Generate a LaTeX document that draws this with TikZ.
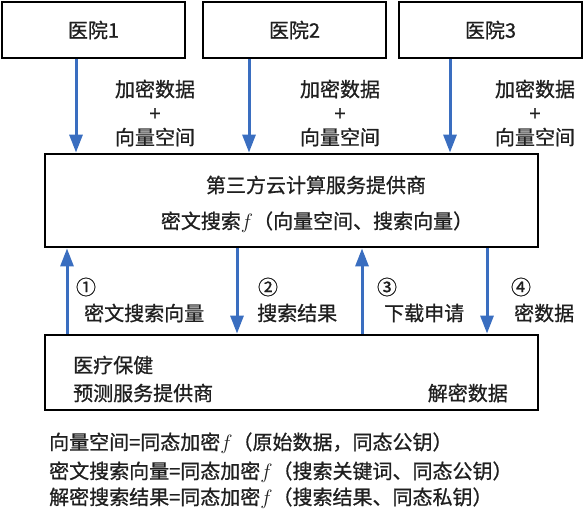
\documentclass[tikz,border=0pt]{standalone}
\usepackage{fontspec}
\newfontfamily\cjk[FakeBold=0.8]{Noto Sans CJK SC}
\usetikzlibrary{arrows.meta}
\definecolor{arrowblue}{RGB}{58,110,192}

\begin{document}
\begin{tikzpicture}[x=1pt,y=-1pt,
boxnode/.style={rectangle, draw=black, line width=2.8pt, fill=white, font=\cjk\fontsize{20}{24}\selectfont, text=black!88},
textnode/.style={font=\cjk\fontsize{20}{24}\selectfont, text=black!88, inner sep=0pt},
bluearrow/.style={draw=arrowblue, line width=3pt, -{Triangle[width=13pt,length=18pt]}}
]
    \useasboundingbox (0,0) rectangle (588,512);

    \node [boxnode, minimum width=183pt, minimum height=56pt] (h1) at (93.5,30) {医院1};
    \node [boxnode, minimum width=183pt, minimum height=56pt] (h2) at (294.5,30) {医院2};
    \node [boxnode, minimum width=183pt, minimum height=56pt] (h3) at (490.5,30) {医院3};

    \node [boxnode, minimum width=493pt, minimum height=93pt] (c) at (291.5,200.5) {};
    \node [textnode] (c1) at (316,185) {第三方云计算服务提供商};
    \node [textnode] (c2) at (317,222) {密文搜索$f$（向量空间、搜索向量）};

    \node [boxnode, minimum width=493pt, minimum height=75pt] (p) at (291.5,372.5) {};
    \node [textnode, anchor=west] (p1) at (73,365) {医疗保健};
    \node [textnode, anchor=west] (p2) at (73,393) {预测服务提供商};
    \node [textnode, anchor=east] (p3) at (508,393) {解密数据};

    \node [textnode, align=center] (t1) at (155,113) {加密数据\\+\\向量空间};
    \node [textnode, align=center] (t2) at (340,113) {加密数据\\+\\向量空间};
    \node [textnode, align=center] (t3) at (535,113) {加密数据\\+\\向量空间};

    \node [textnode] (n1) at (86,287) {①};
    \node [textnode] (n2) at (268,287) {②};
    \node [textnode] (n3) at (387,287) {③};
    \node [textnode] (n4) at (521,287) {④};
    \node [textnode, anchor=west] (s1) at (84,313) {密文搜索向量};
    \node [textnode, anchor=west] (s2) at (257,313) {搜索结果};
    \node [textnode, anchor=west] (s3) at (384,313) {下载申请};
    \node [textnode, anchor=west] (s4) at (514,313) {密数据};

    \node [textnode, anchor=west] (f1) at (49,443) {向量空间=同态加密$f$（原始数据，同态公钥）};
    \node [textnode, anchor=west] (f2) at (49,472) {密文搜索向量=同态加密$f$（搜索关键词、同态公钥）};
    \node [textnode, anchor=west] (f3) at (49,498) {解密搜索结果=同态加密$f$（搜索结果、同态私钥）};

    \draw [bluearrow] ([xshift=-17.5pt]h1.south) -- ([xshift=-17.5pt]h1.south |- c.north);
    \draw [bluearrow] ([xshift=-45.5pt]h2.south) -- ([xshift=-45.5pt]h2.south |- c.north);
    \draw [bluearrow] ([xshift=-40.5pt]h3.south) -- ([xshift=-40.5pt]h3.south |- c.north);

    \draw [bluearrow] ([xshift=-224.5pt]p.north) -- ([xshift=-224.5pt]p.north |- c.south);
    \draw [bluearrow] ([xshift=-54.5pt]c.south) -- ([xshift=-54.5pt]c.south |- p.north);
    \draw [bluearrow] ([xshift=70.5pt]p.north) -- ([xshift=70.5pt]p.north |- c.south);
    \draw [bluearrow] ([xshift=195.5pt]c.south) -- ([xshift=195.5pt]c.south |- p.north);
\end{tikzpicture}
\end{document}
